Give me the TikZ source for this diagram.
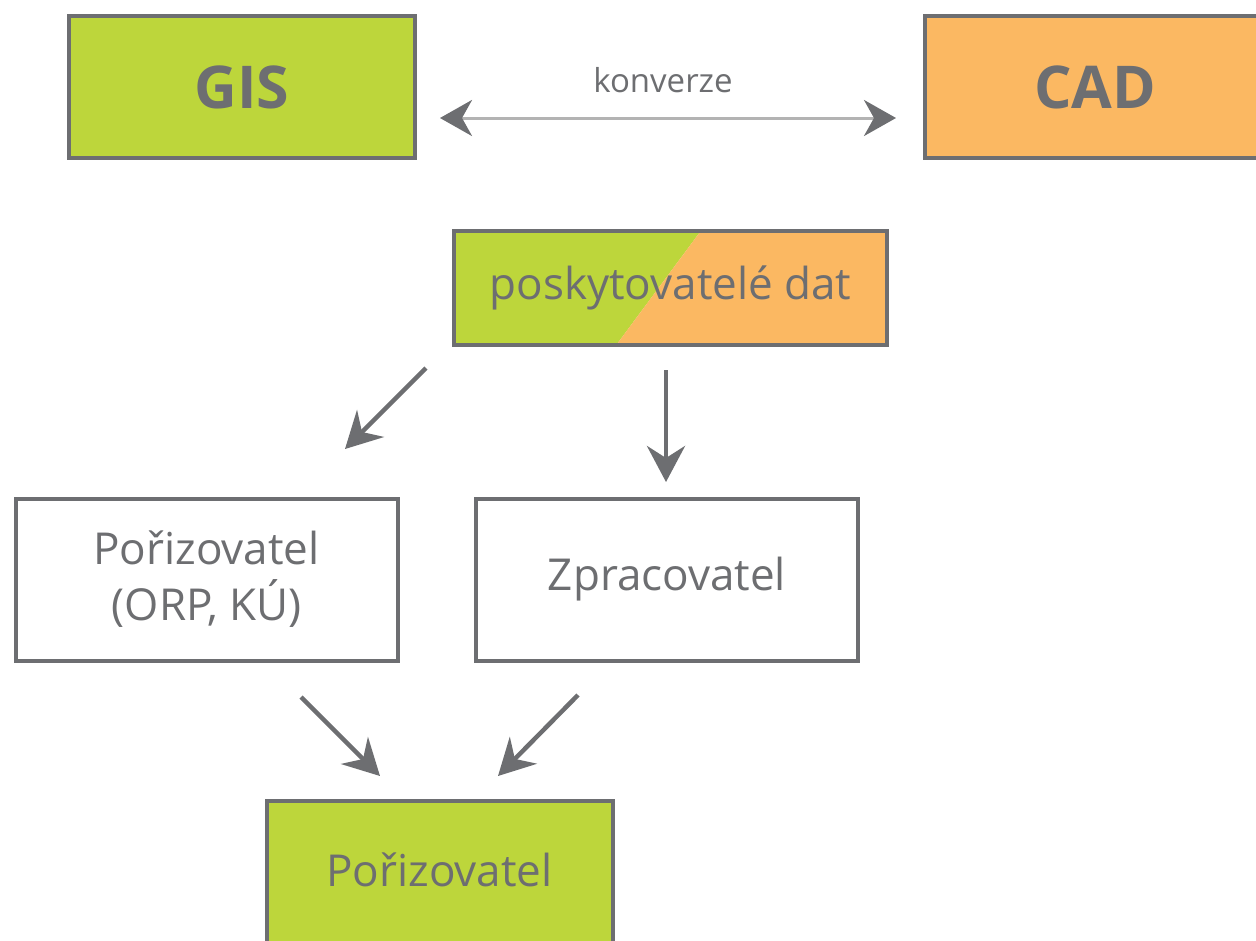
\documentclass[tikz,border=0pt]{standalone}
\usepackage{fontspec}
\setmainfont{Open Sans}
\usetikzlibrary{arrows.meta}
\definecolor{gisgreen}{HTML}{BDD63B}
\definecolor{cadorange}{HTML}{FBB862}
\definecolor{dgray}{HTML}{6D6E71}
\definecolor{lgray}{HTML}{B3B3B3}
\tikzset{
  box/.style={draw=dgray, line width=4pt, inner sep=0pt, text=dgray, align=center},
  arr/.style={draw=dgray, line width=4.5pt, -{Stealth[length=36pt,width=38pt,inset=12pt]}},
  bigtxt/.style={font=\bfseries\fontsize{59}{66}\selectfont},
  midtxt/.style={font=\fontsize{44}{56}\selectfont},
}
\begin{document}
\begin{tikzpicture}[x=1pt,y=-1pt]
\useasboundingbox (0,0) rectangle (1256,940);
\clip (0,0) rectangle (1256,940);
\fill[white] (0,0) rectangle (1256,940);
% top boxes
\node[box, fill=gisgreen, minimum width=346, minimum height=142, bigtxt] (gis) at (242,87) {GIS};
\node[box, fill=cadorange, minimum width=346, minimum height=142, anchor=west] (cadbox) at (923,87) {};
\node[text=dgray, bigtxt] (cad) at (1095,87) {CAD};
% konverze
\coordinate (k1) at (440,118);
\coordinate (k2) at (896,118);
\draw[draw=lgray, line width=3pt, {Stealth[length=32pt,width=36pt,inset=10pt,color=dgray]}-{Stealth[length=32pt,width=36pt,inset=10pt,color=dgray]}] (k1) -- (k2);
\node[text=dgray, font=\fontsize{33}{40}\selectfont] (konv) at (663,80) {konverze};
% split box
\fill[gisgreen] (455,232) -- (700,232) -- (617,344) -- (455,344) -- cycle;
\fill[cadorange] (700,232) -- (886,232) -- (886,344) -- (617,344) -- cycle;
\node[box, minimum width=433, minimum height=114, midtxt] (posk) at (670.5,288) {poskytovatelé dat};
% middle boxes
\node[box, fill=white, minimum width=382, minimum height=162, midtxt] (por1) at (206.5,579.5) {Pořizovatel\\(ORP, KÚ)};
\node[box, fill=white, minimum width=382, minimum height=162, midtxt] (zpr) at (667,579.5) {Zpracovatel};
% bottom box
\node[box, fill=gisgreen, minimum width=346, minimum height=160, anchor=north] (por2) at (439.5,799) {};
\node[text=dgray, midtxt] (por2t) at (439.5,870) {Pořizovatel};
% arrows
\coordinate (a1s) at (426,368); \coordinate (a1e) at (345,449);
\coordinate (a2s) at (666,370); \coordinate (a2e) at (666,482);
\coordinate (a3s) at (301,697); \coordinate (a3e) at (380,776);
\coordinate (a4s) at (578,695); \coordinate (a4e) at (498,776);
\draw[arr] (a1s) -- (a1e);
\draw[arr] (a2s) -- (a2e);
\draw[arr] (a3s) -- (a3e);
\draw[arr] (a4s) -- (a4e);
\end{tikzpicture}
\end{document}
